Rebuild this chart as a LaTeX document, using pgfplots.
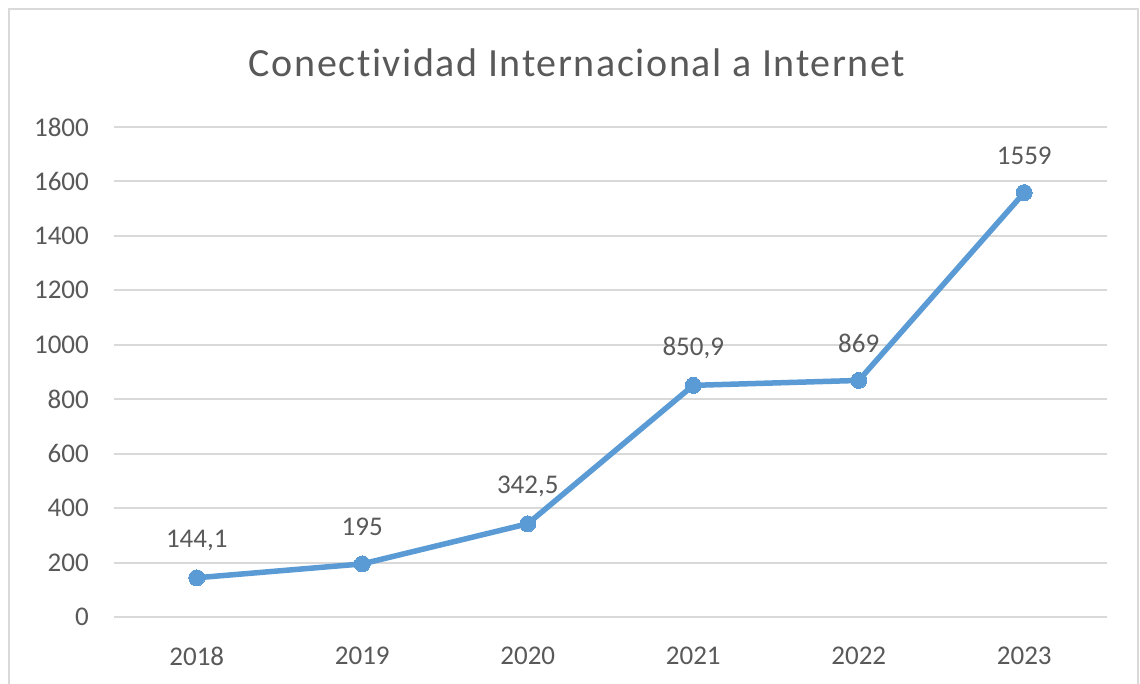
\documentclass[border=0pt]{standalone}
\usepackage{fontspec}
\setmainfont{Carlito}[Ligatures=NoCommon]
\usepackage{pgfplots}
\pgfplotsset{compat=1.18}
\definecolor{txt}{HTML}{595959}
\definecolor{gridc}{HTML}{D9D9D9}
\definecolor{linec}{HTML}{5B9BD5}

\begin{document}
\begin{tikzpicture}[x=1pt,y=1pt]
\clip (0,0) rectangle (1140,684);
\fill[white] (0,0) rectangle (1140,684);
\draw[color=gridc, line width=2.5pt] (9,-20) rectangle (1138,675);
\node[text=txt, font=\fontsize{40}{44}\selectfont\addfontfeatures{LetterSpace=4}] at (577,621) {Conectividad Internacional a Internet};
\begin{axis}[
  at={(114pt,67pt)}, anchor=south west, scale only axis,
  width=993pt, height=490pt,
  xmin=-0.5, xmax=5.5, ymin=0, ymax=1800,
  xtick={0,1,2,3,4,5},
  xticklabels={2018,2019,2020,2021,2022,2023},
  ytick={0,200,...,1800},
  axis line style={draw=none},
  tick style={draw=none},
  ymajorgrids,
  major grid style={color=gridc, line width=2pt},
  tick label style={font=\fontsize{27}{30}\selectfont, text=txt},
  /pgf/number format/assume math mode=true,
  /pgf/number format/1000 sep={},
  yticklabel style={anchor=east, inner sep=0pt, xshift=-25pt},
  xticklabel style={anchor=center, inner sep=0pt, yshift=-39pt},
  clip=false,
  nodes near coords,
  point meta=explicit symbolic,
  every node near coord/.append style={anchor=center, yshift=37pt, font=\fontsize{27}{30}\selectfont, text=txt},
]
\addplot[color=linec, line width=5.5pt, line join=round, mark=*, mark size=8pt, mark options={fill=linec, draw=linec, line width=0pt}]
  coordinates {(0,144.1) [144,1] (1,195) [195] (2,342.5) [342,5] (3,850.9) [850,9] (4,869) [869] (5,1559) [1559]};
\end{axis}
\end{tikzpicture}
\end{document}
